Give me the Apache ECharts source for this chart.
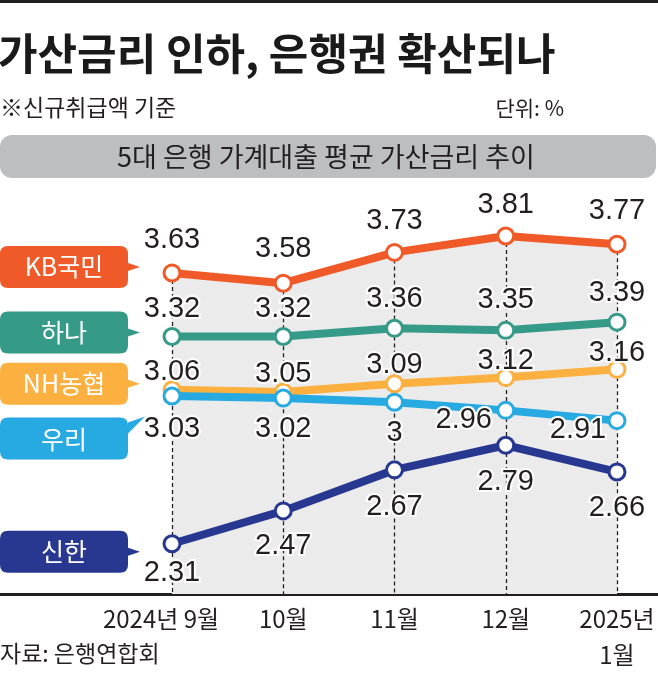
<!DOCTYPE html>
<html>
<head>
<meta charset="utf-8">
<script src="https://cdn.jsdelivr.net/npm/echarts@6/dist/echarts.min.js"></script>
<style>
html,body{margin:0;padding:0;background:#fff;}
#chart{width:658px;height:673px;}
</style>
</head>
<body>
<div id="chart"></div>
<script>
// ---- data ----
const months = ['2024년 9월', '10월', '11월', '12월', '2025년\n1월'];
const bankNames = ['KB국민', '하나', 'NH농협', '우리', '신한'];
const kb = [3.63, 3.58, 3.73, 3.81, 3.77];
const hana = [3.32, 3.32, 3.36, 3.35, 3.39];
const nh = [3.06, 3.05, 3.09, 3.12, 3.16];
const woori = [3.03, 3.02, 3, 2.96, 2.91];
const shinhan = [2.31, 2.47, 2.67, 2.79, 2.66];
const titleText = '가산금리 인하, 은행권 확산되나';
const subText = '※신규취급액 기준';
const unitText = '단위: %';
const boxTitle = '5대 은행 가계대출 평균 가산금리 추이';
const sourceText = '자료: 은행연합회';

// ---- styles ----
const Y_MIN = 2.065, Y_MAX = 4.0;
const colors = ['#f05a28', '#369a89', '#fbb040', '#27aae1', '#283891'];
const numFont = '"Liberation Sans Narrow", "Liberation Sans", sans-serif';
const krFont = '"Noto Sans CJK KR", sans-serif';
const labelOffsets = [
  [[0,-33],[0,-34],[0,-31],[0,-31],[0,-33]],
  [[0,-28],[0,-28],[0,-29],[0,-30],[0,-29]],
  [[0,-18],[0,-18],[0,-19],[0,-17],[0,-16]],
  [[0,33],[0,31],[0,31],[-42,10],[-39,9]],
  [[0,29],[0,35],[0,37],[0,37],[0,36]]
];
const pathRight = 'path://M8,0 L120,0 Q128,0 128,8 L128,17 L140,21 L128,25 L128,34 Q128,42 120,42 L8,42 Q0,42 0,34 L0,8 Q0,0 8,0 Z';
const pathUp = 'path://M8,1 L120,1 Q128,1 128,9 L128,6 L145,0 L128,17 L128,35 Q128,43 120,43 L8,43 Q0,43 0,35 L0,9 Q0,1 8,1 Z';
const callouts = [
  {path: pathRight, size: [140, 42], offset: [-102, -6], textOffset: [-6, 0]},
  {path: pathRight, size: [140, 42], offset: [-102, -4], textOffset: [-6, 0]},
  {path: pathRight, size: [140, 42], offset: [-102, -6], textOffset: [-6, 0]},
  {path: pathUp, size: [145, 43], offset: [-99.5, 42], textOffset: [-8.5, 1]},
  {path: pathRight, size: [140, 42], offset: [-102, 8], textOffset: [-6, 0]}
];
const allData = [kb, hana, nh, woori, shinhan];
const zs = [3, 3, 4, 5, 6];

function makeSeries(k) {
  const data = allData[k];
  const c = colors[k];
  return {
    type: 'line',
    name: bankNames[k],
    xAxisIndex: 0, yAxisIndex: 0,
    z: zs[k],
    clip: false,
    data: data.map((v, i) => ({value: v, label: {offset: labelOffsets[k][i]}})),
    symbol: 'circle',
    symbolSize: 16,
    itemStyle: {color: '#fff', borderColor: c, borderWidth: 3},
    lineStyle: {color: c, width: 8},
    emphasis: {disabled: true},
    animation: false,
    label: {
      show: true,
      position: 'inside',
      fontFamily: numFont,
      fontSize: 29,
      color: '#231f20',
      textBorderColor: '#fff',
      textBorderWidth: 4
    },
    markPoint: {
      silent: true,
      animation: false,
      symbol: callouts[k].path,
      symbolSize: callouts[k].size,
      symbolKeepAspect: false,
      symbolOffset: callouts[k].offset,
      itemStyle: {color: c},
      label: {
        show: true,
        position: 'inside',
        offset: callouts[k].textOffset,
        formatter: bankNames[k],
        color: '#fff',
        fontFamily: krFont,
        fontSize: 25
      },
      data: [{coord: [months[0], data[0]]}]
    }
  };
}

const chart = echarts.init(document.getElementById('chart'), null, {renderer: 'canvas'});
const option = {
  backgroundColor: '#fff',
  animation: false,
  title: [
    {text: titleText, left: -2, top: 32, padding: 0,
     textStyle: {fontFamily: krFont, fontSize: 43, fontWeight: 'bold', color: '#1a1a1a'}},
    {text: subText, left: 0, top: 96, padding: 0,
     textStyle: {fontFamily: krFont, fontSize: 23, fontWeight: 'normal', color: '#231f20'}},
    {text: unitText, right: 94, top: 98, padding: 0,
     textStyle: {fontFamily: krFont, fontSize: 21, fontWeight: 'normal', color: '#231f20'}},
    {text: sourceText, left: 0, top: 642, padding: 0,
     textStyle: {fontFamily: krFont, fontSize: 23, fontWeight: 'normal', color: '#231f20'}}
  ],
  graphic: [
    {type: 'rect', shape: {x: 0, y: 0, width: 658, height: 3}, style: {fill: '#231f20'}, silent: true},
    {type: 'rect', shape: {x: 0, y: 135, width: 656, height: 43, r: 12}, style: {fill: '#bcbec0'}, silent: true},
    {type: 'text', x: 326, y: 157, silent: true,
     style: {text: boxTitle, fontFamily: krFont, fontSize: 27, fill: '#231f20', align: 'center', verticalAlign: 'middle'}}
  ],
  grid: [
    {left: 172, right: 41, top: 197, bottom: 79},
    {left: 0, right: 0, top: 197, bottom: 79}
  ],
  xAxis: [
    {
      type: 'category', gridIndex: 0, data: months, boundaryGap: false,
      axisLine: {show: false}, axisTick: {show: false}, splitLine: {show: false},
      axisLabel: {
        interval: 0, hideOverlap: false,
        margin: 7, fontFamily: krFont, fontSize: 24, color: '#231f20', lineHeight: 36,
        formatter: (v, i) => i === 0 ? '{f|' + v + '}' : v,
        rich: {f: {fontFamily: krFont, fontSize: 24, color: '#231f20', lineHeight: 36, padding: [0, 22, 0, 0]}}
      }
    },
    {
      type: 'value', gridIndex: 1, min: 0, max: 1,
      axisLine: {show: true, lineStyle: {color: '#231f20', width: 3}},
      axisTick: {show: false}, axisLabel: {show: false}, splitLine: {show: false}
    }
  ],
  yAxis: [
    {type: 'value', gridIndex: 0, min: Y_MIN, max: Y_MAX, show: false},
    {type: 'value', gridIndex: 1, min: 0, max: 1, show: false}
  ],
  series: [
    {
      type: 'line', name: 'area', xAxisIndex: 0, yAxisIndex: 0, z: 1,
      data: kb, symbol: 'none', silent: true,
      lineStyle: {width: 0},
      areaStyle: {color: '#ebebeb', opacity: 1, origin: 'start'},
      markLine: {
        silent: true, animation: false, z: 2,
        symbol: ['none', 'none'],
        label: {show: false},
        lineStyle: {color: '#231f20', width: 1.3, type: [4, 3]},
        data: kb.map((v, i) => [{coord: [months[i], v]}, {coord: [months[i], Y_MIN]}])
      }
    },
    makeSeries(0), makeSeries(1), makeSeries(2), makeSeries(3), makeSeries(4)
  ]
};
chart.setOption(option);
</script>
</body>
</html>
